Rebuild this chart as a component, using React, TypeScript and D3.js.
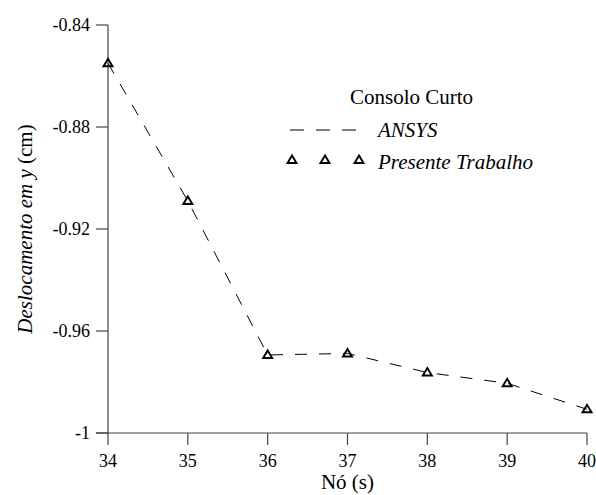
import React, { useEffect, useState } from "react";
import * as d3 from "d3";

const WIDTH = 596;
const HEIGHT = 495;
const MARGIN = { top: 25, right: 9, bottom: 62, left: 108 };

// data
const nodes = [34, 35, 36, 37, 38, 39, 40];
const ansys = [-0.855, -0.909, -0.9694, -0.9688, -0.9763, -0.9805, -0.9907];
const presente = [-0.855, -0.909, -0.9694, -0.9688, -0.9763, -0.9805, -0.9907];
const yTicks = [-0.84, -0.88, -0.92, -0.96, -1];
const yTickLabels = ["-0.84", "-0.88", "-0.92", "-0.96", "-1"];

const TXT = {
  fontFamily: '"Liberation Serif", Tinos, "Times New Roman", Times, FreeSerif, "Nimbus Roman", serif',
};

const Triangle = ({ x, y }: { x: number; y: number }) => (
  <path
    d={`M${x},${y - 4.5} L${x + 4.5},${y + 3} L${x - 4.5},${y + 3} Z`}
    fill="none"
    stroke="#000"
    strokeWidth={1.9}
  />
);

const App = () => {
  // re-render once fonts are ready so the serif face is picked up
  const [, setTick] = useState(0);
  useEffect(() => {
    if (document.fonts && document.fonts.ready) {
      document.fonts.ready.then(() => setTick((t) => t + 1));
    }
  }, []);

  const boundsWidth = WIDTH - MARGIN.left - MARGIN.right;
  const boundsHeight = HEIGHT - MARGIN.top - MARGIN.bottom;

  const xScale = d3.scaleLinear().domain([34, 40]).range([0, boundsWidth]);
  const yScale = d3.scaleLinear().domain([-1, -0.84]).range([boundsHeight, 0]);

  const line = d3
    .line<number>()
    .x((_, i) => xScale(nodes[i]))
    .y((d) => yScale(d));

  const axisColor = "#444";

  return (
    <svg
      width={WIDTH}
      height={HEIGHT}
      style={{ position: "absolute", left: 0, top: 0, background: "#fff" }}
    >
      <g transform={`translate(${MARGIN.left},${MARGIN.top})`}>
        {/* axes */}
        <line x1={0} x2={0} y1={0} y2={boundsHeight} stroke={axisColor} strokeWidth={1.2} />
        <line x1={-12} x2={boundsWidth} y1={boundsHeight} y2={boundsHeight} stroke={axisColor} strokeWidth={1.2} />
        {yTicks.map((t, i) => (
          <g key={i}>
            <line x1={-12} x2={0} y1={yScale(t)} y2={yScale(t)} stroke={axisColor} strokeWidth={1.2} />
            <text x={-18} y={yScale(t) + 6} textAnchor="end" fontSize={18} style={TXT}>
              {yTickLabels[i]}
            </text>
          </g>
        ))}
        {nodes.map((n) => (
          <g key={n}>
            <line
              x1={xScale(n)}
              x2={xScale(n)}
              y1={boundsHeight}
              y2={boundsHeight + 12}
              stroke={axisColor}
              strokeWidth={1.2}
            />
            <text x={xScale(n)} y={boundsHeight + 34} textAnchor="middle" fontSize={18} style={TXT}>
              {n}
            </text>
          </g>
        ))}
        <text x={boundsWidth / 2} y={boundsHeight + 56} textAnchor="middle" fontSize={21} style={TXT}>
          Nó (s)
        </text>
        <text
          transform={`translate(${-76},${boundsHeight / 2}) rotate(-90)`}
          textAnchor="middle"
          fontSize={21}
          style={TXT}
        >
          <tspan fontStyle="italic">Deslocamento em y</tspan> (cm)
        </text>

        {/* series */}
        <path
          d={line(ansys) ?? ""}
          fill="none"
          stroke="#000"
          strokeWidth={1}
          strokeDasharray="12 12"
        />
        {presente.map((v, i) => (
          <Triangle key={i} x={xScale(nodes[i])} y={yScale(v)} />
        ))}
      </g>

      {/* legend */}
      <g>
        <text x={350} y={104} fontSize={21} style={TXT}>
          Consolo Curto
        </text>
        <line x1={290} x2={358} y1={130} y2={130} stroke="#000" strokeWidth={1} strokeDasharray="14 12" />
        <text x={378} y={137} fontSize={21} fontStyle="italic" style={TXT}>
          ANSYS
        </text>
        {[292, 325, 359].map((x, i) => (
          <Triangle key={i} x={x} y={160} />
        ))}
        <text x={378} y={169} fontSize={21} fontStyle="italic" style={TXT}>
          Presente Trabalho
        </text>
      </g>
    </svg>
  );
};

export default App;
